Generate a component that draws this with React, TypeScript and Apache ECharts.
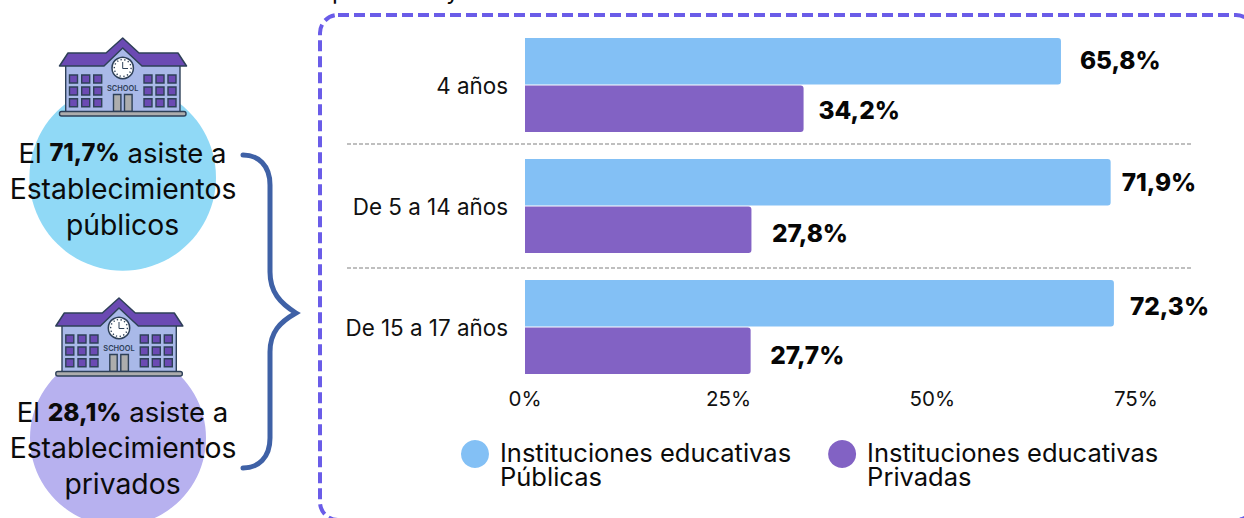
import React, { useEffect, useRef } from "react";
import * as echarts from "echarts";

const categories = ["4 años", "De 5 a 14 años", "De 15 a 17 años"];
const publicas = [65.8, 71.9, 72.3];
const privadas = [34.2, 27.8, 27.7];
const seriesNames = ["Instituciones educativas\nPúblicas", "Instituciones educativas\nPrivadas"];
const publicasLabelNudge = [[19, -1], [11, 0], [16, 3]];
const privadasLabelNudge = [[15, 1.5], [20.5, 3.5], [19.5, 4.5]];

const FONT = "Inter";
const DARK = "#2e4058";
const PURPLE = "#6b4ab3";
const BODY = "#a9b9e8";

echarts.graphic.registerShape(
  "brace",
  echarts.graphic.extendPath(
    "M243 155 C258 155 270 165 270 185 L270 272 C270 292 280 303 296 313 C280 322 270 332 270 352 L270 438 C270 458 258 468 243 468",
    {}
  )
);

function school(dx: number, dy: number) {
  const children: any[] = [];
  const rect = (x: number, y: number, w: number, h: number, fill: string, r = 0, lw = 1.4) =>
    children.push({ type: "rect", shape: { x, y, width: w, height: h, r }, style: { fill, stroke: DARK, lineWidth: lw } });
  children.push({
    type: "polygon",
    shape: { points: [[65.7, 62], [106, 62], [122.7, 46], [140, 62], [180, 62], [180, 112], [65.7, 112]] },
    style: { fill: BODY, stroke: DARK, lineWidth: 1.4 },
  });
  children.push({
    type: "polygon",
    shape: {
      points: [[59.5, 66], [68, 53], [106, 53], [122.7, 38], [139, 53], [178, 53], [186.5, 66], [142, 66], [122.7, 48], [104, 66]],
    },
    style: { fill: PURPLE, stroke: DARK, lineWidth: 1.5, lineJoin: "round" },
  });
  for (const x of [69.5, 81.7, 93.7, 144, 156, 168]) {
    for (const y of [75, 87, 98.8]) rect(x, y, 8, 8, PURPLE);
  }
  rect(113.5, 94.5, 7.4, 17, "#adadad");
  rect(124.5, 94.5, 7.6, 17, "#adadad");
  rect(59.5, 111.5, 126.5, 4.5, "#adadad", 2);
  children.push({ type: "circle", shape: { cx: 122.7, cy: 68, r: 10.7 }, style: { fill: "#ffffff", stroke: DARK, lineWidth: 1.5 } });
  children.push({ type: "circle", shape: { cx: 122.7, cy: 68, r: 8.4 }, style: { fill: "none", stroke: DARK, lineWidth: 1.4, lineDash: [1.3, 2.4] } });
  children.push({ type: "polyline", shape: { points: [[122.7, 62], [122.7, 68.5], [128, 68.5]] }, style: { fill: "none", stroke: DARK, lineWidth: 1 } });
  children.push({
    type: "text",
    x: 122.7,
    y: 88.5,
    style: { text: "SCHOOL", fill: DARK, font: `600 7.4px ${FONT}`, align: "center", verticalAlign: "middle" },
  });
  return { type: "group", x: dx, y: dy, children };
}

const plain = (text: string, x: number, y: number) => ({
  type: "text",
  x,
  y,
  style: { text, fill: "#0b0b0b", font: `400 28.3px ${FONT}`, align: "center", verticalAlign: "middle" },
});

const mixed = (pre: string, bold: string, post: string, boldSize: number, x: number, y: number) => ({
  type: "text",
  x,
  y,
  style: {
    text: `{n|${pre}}{b|${bold}}{n|${post}}`,
    align: "center",
    verticalAlign: "middle",
    rich: {
      n: { fontFamily: FONT, fontSize: 27.5, fontWeight: 400, fill: "#0b0b0b", color: "#0b0b0b" },
      b: { fontFamily: FONT, fontSize: boldSize, fontWeight: 800, fill: "#0b0b0b", color: "#0b0b0b" },
    },
  },
});

export default function App() {
  const ref = useRef<HTMLDivElement>(null);
  useEffect(() => {
    document.body.style.margin = "0";
    const chart = echarts.init(ref.current!, undefined, { renderer: "svg" });
    const makeSeries = (name: string, values: number[], color: string, nudge: number[][]) => ({
      type: "bar",
      name,
      barWidth: 46.5,
      barGap: "2%",
      itemStyle: { color, borderRadius: [0, 3, 3, 0] },
      data: values.map((value, i) => ({
        value,
        label: { offset: nudge[i] },
      })),
      label: {
        show: true,
        position: "right",
        distance: 0,
        fontFamily: FONT,
        fontWeight: 800,
        fontSize: 24.4,
        color: "#060606",
        formatter: (p: any) => String(p.value).replace(".", ",") + "%",
      },
    });
    chart.setOption({
      animation: false,
      backgroundColor: "#ffffff",
      grid: { left: 525, top: 24.5, width: 610.9, height: 363, containLabel: false },
      legend: {
        left: 461,
        top: 419,
        padding: 0,
        icon: "circle",
        itemWidth: 28,
        itemHeight: 28,
        itemGap: 37,
        selectedMode: false,
        formatter: (name: string) => {
          const [a, b] = name.split("\n");
          return `{s| }\n{t|${a}}\n{t|${b}}`;
        },
        textStyle: {
          rich: {
            s: { height: 21, lineHeight: 21, fontSize: 1 },
            t: {
              fontFamily: FONT,
              fontSize: 25.5,
              lineHeight: 24.5,
              height: 24.5,
              color: "#0b0b0b",
              padding: [0, 0, 0, 6],
            },
          },
        },
      },
      xAxis: {
        type: "value",
        min: 0,
        max: 75,
        interval: 25,
        axisLine: { show: false },
        axisTick: { show: false },
        splitLine: { show: false },
        axisLabel: { formatter: "{value}%", fontFamily: FONT, fontSize: 20.5, color: "#111111", margin: 0 },
      },
      yAxis: {
        type: "category",
        inverse: true,
        data: categories,
        axisLine: { show: false },
        axisTick: { show: false },
        axisLabel: { fontFamily: FONT, fontSize: 22.4, color: "#111111", margin: 17, lineHeight: 24, padding: [0, 0, 2, 0] },
      },
      series: [
        makeSeries(seriesNames[0], publicas, "#83c0f5", publicasLabelNudge),
        makeSeries(seriesNames[1], privadas, "#8262c4", privadasLabelNudge),
      ],
      graphic: [
        { type: "circle", z: 0, shape: { cx: 122.7, cy: 177.4, r: 93.3 }, style: { fill: "#90d9f6" } },
        { type: "circle", z: 0, shape: { cx: 118, cy: 438, r: 88 }, style: { fill: "#b7b1ef" } },
        { ...school(0, 0), z: 1 },
        { ...school(-3.7, 260), z: 1 },
        { type: "brace", x: 0, y: 0, style: { fill: "none", stroke: "#3f61a6", lineWidth: 5, lineCap: "round" } },
        {
          type: "rect",
          shape: { x: 320, y: 15, width: 934, height: 505, r: 18 },
          style: { fill: "none", stroke: "#6a5ce8", lineWidth: 4, lineDash: [11, 5] },
        },
        { type: "line", shape: { x1: 347, y1: 144, x2: 1192, y2: 144 }, style: { stroke: "#ababab", lineWidth: 1.5, lineDash: [4, 2] } },
        { type: "line", shape: { x1: 347, y1: 268, x2: 1192, y2: 268 }, style: { stroke: "#ababab", lineWidth: 1.5, lineDash: [4, 2] } },
        { type: "text", x: 332, y: -22, style: { text: "p", fill: "#0b0b0b", font: `400 24px ${FONT}` } },
        { type: "text", x: 446, y: -22, style: { text: "y", fill: "#0b0b0b", font: `400 24px ${FONT}` } },
        { ...mixed("El ", "71,7%", " asiste a", 23.7, 122.5, 152.5), z: 2 },
        { ...plain("Establecimientos", 123, 189), z: 2 },
        { ...plain("públicos", 122.5, 225), z: 2 },
        { ...mixed("El ", "28,1%", " asiste a", 24.5, 122.5, 411.5), z: 2 },
        { ...plain("Establecimientos", 123, 448), z: 2 },
        { ...plain("privados", 122.5, 484), z: 2 },
      ],
    });
    return () => chart.dispose();
  }, []);
  return <div ref={ref} style={{ position: "absolute", left: 0, top: 0, width: 1244, height: 518 }} />;
}
